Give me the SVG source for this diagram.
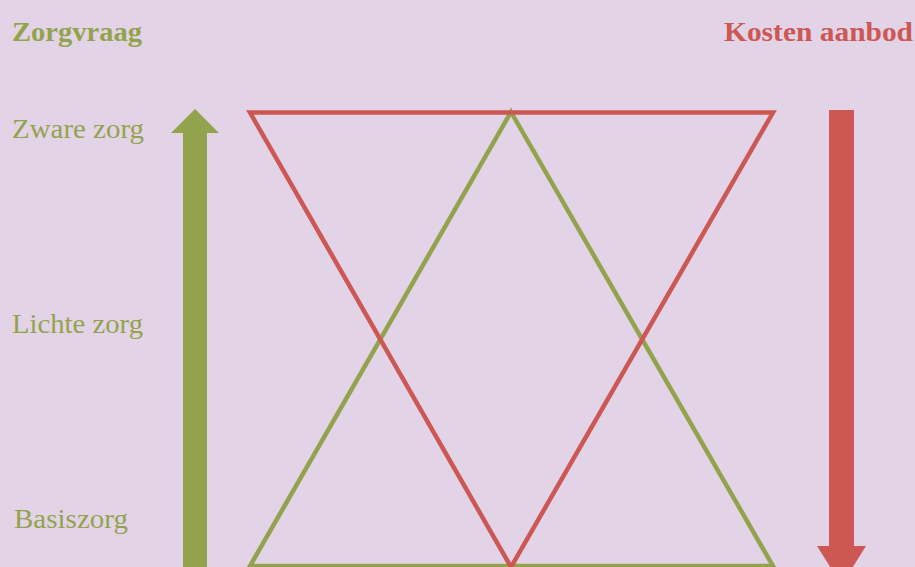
<svg xmlns="http://www.w3.org/2000/svg" width="915" height="567" viewBox="0 0 915 567">
<style>
.g{fill:#93A34D}
.r{fill:#CD5753}
.t{font-family:"Liberation Serif","DejaVu Serif",serif;font-size:27px}
.b{font-weight:bold}
.tri{fill:none;stroke-width:4.5;stroke-linejoin:miter}
</style>
<rect width="915" height="567" fill="#E3D3E7"/>
<g id="labels">
<text class="t b g" x="12" y="41" textLength="130" lengthAdjust="spacingAndGlyphs">Zorgvraag</text>
<text class="t b r" x="724" y="41" textLength="189" lengthAdjust="spacingAndGlyphs">Kosten aanbod</text>
<text class="t g" x="12" y="138" textLength="132" lengthAdjust="spacingAndGlyphs">Zware zorg</text>
<text class="t g" x="12" y="333" textLength="131" lengthAdjust="spacingAndGlyphs">Lichte zorg</text>
<text class="t g" x="14" y="528" textLength="114" lengthAdjust="spacingAndGlyphs">Basiszorg</text>
</g>
<g id="green-triangle">
<polygon class="tri" stroke="#93A34D" points="511,112 773,566 250,566"/>
</g>
<g id="red-triangle">
<polygon class="tri" stroke="#CD5753" points="250,112.5 773,112.5 511,567"/>
</g>
<g id="connectors">
<polygon id="arrow-up" class="g" points="195,109 219,133 207,133 207,567 183,567 183,133 171,133"/>
<polygon id="arrow-down" class="r" points="829,110 854,110 854,546 866,546 841.5,585 817,546 829,546"/>
</g>
</svg>
